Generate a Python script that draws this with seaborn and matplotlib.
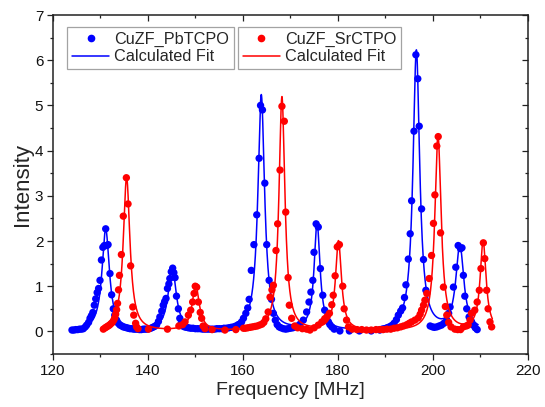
import numpy as np
import pandas as pd
import matplotlib
matplotlib.use("Agg")
import matplotlib.pyplot as plt
from matplotlib.lines import Line2D
from matplotlib.ticker import MultipleLocator
import seaborn as sns

# ---------------- data ----------------
blue_freq = [124.0, 124.4, 124.8, 125.2, 125.6, 126.0, 126.4, 126.8, 127.1, 127.5,
             127.8, 128.1, 128.4, 128.7, 129.0, 129.3, 129.6, 129.9, 130.2, 130.5,
             130.8, 131.1, 131.35, 131.6, 132.0, 132.35, 132.7, 133.0, 133.4, 133.75,
             134.1, 134.5, 134.8, 135.2, 135.5, 135.9, 136.2, 136.6, 137.0, 137.4,
             137.8, 138.2, 138.6, 139.0, 139.4, 139.8, 140.2, 140.6, 141.0, 141.4,
             141.8, 142.2, 142.5, 142.9, 143.2, 143.5, 143.8, 144.1, 144.4, 144.6,
             144.9, 145.2, 145.45, 145.7, 146.0, 146.4, 146.7, 147.0, 147.3, 147.7,
             148.1, 148.5, 149.0, 149.5, 150.0, 150.5, 151.0, 151.5, 152.0, 152.5,
             153.0, 153.5, 154.0, 154.5, 155.0, 155.5, 156.0, 156.5, 157.0, 157.5,
             158.0, 158.5, 159.0, 159.4, 159.7, 160.1, 160.6, 161.0, 161.3, 161.75,
             162.3, 162.9, 163.4, 163.7, 164.1, 164.6, 165.0, 165.5, 166.0, 166.4,
             166.8, 167.2, 167.6, 168.0, 168.5, 169.0, 169.5, 170.0, 170.5, 171.0,
             171.5, 172.0, 172.7, 173.4, 173.9, 174.3, 174.7, 174.95, 175.4, 175.85,
             176.3, 176.8, 177.2, 177.6, 178.0, 178.3, 178.7, 179.2, 180.4, 182.4,
             184.5, 187.0, 188.8, 189.3, 189.8, 190.3, 190.8, 191.3, 191.8, 192.3,
             192.7, 193.2, 193.6, 194.0, 194.3, 194.8, 195.2, 195.5, 196.0, 196.4,
             196.8, 197.1, 197.6, 198.0, 198.5, 199.4, 199.9, 200.3, 200.8, 201.3,
             201.8, 202.3, 202.9, 203.3, 203.6, 204.3, 204.8, 205.3, 205.8, 206.1,
             206.4, 206.7, 207.1, 207.6, 208.1, 208.5, 208.9, 209.3]
blue_int = [0.03, 0.03, 0.04, 0.04, 0.05, 0.05, 0.06, 0.10, 0.14, 0.20,
            0.29, 0.35, 0.42, 0.58, 0.72, 0.86, 0.95, 1.13, 1.58, 1.86,
            1.90, 2.27, 1.90, 1.92, 1.28, 0.81, 0.50, 0.36, 0.25, 0.18,
            0.14, 0.12, 0.10, 0.09, 0.08, 0.07, 0.06, 0.06, 0.05, 0.05,
            0.05, 0.04, 0.04, 0.05, 0.05, 0.05, 0.06, 0.07, 0.09, 0.11,
            0.14, 0.22, 0.32, 0.45, 0.58, 0.66, 0.73, 0.95, 1.05, 1.17,
            1.32, 1.40, 1.30, 1.19, 0.78, 0.50, 0.29, 0.18, 0.12, 0.10,
            0.09, 0.08, 0.07, 0.07, 0.06, 0.06, 0.06, 0.05, 0.05, 0.05,
            0.05, 0.05, 0.05, 0.06, 0.06, 0.06, 0.07, 0.07, 0.08, 0.09,
            0.10, 0.12, 0.15, 0.17, 0.21, 0.29, 0.40, 0.52, 0.71, 1.35,
            1.92, 2.58, 3.83, 5.00, 4.90, 3.28, 1.92, 1.13, 0.71, 0.40,
            0.25, 0.15, 0.10, 0.08, 0.06, 0.05, 0.06, 0.07, 0.08, 0.10,
            0.12, 0.16, 0.25, 0.43, 0.65, 0.87, 1.13, 1.75, 2.38, 2.31,
            1.39, 0.80, 0.47, 0.28, 0.21, 0.15, 0.10, 0.05, 0.01, 0.01,
            0.01, 0.01, 0.03, 0.05, 0.06, 0.08, 0.10, 0.13, 0.18, 0.26,
            0.36, 0.45, 0.52, 0.75, 1.03, 1.60, 2.16, 2.89, 4.43, 6.12,
            5.59, 4.54, 2.71, 1.59, 0.91, 0.12, 0.10, 0.09, 0.10, 0.12,
            0.14, 0.18, 0.25, 0.40, 0.54, 0.98, 1.42, 1.90, 1.83, 1.85,
            1.24, 0.78, 0.50, 0.32, 0.22, 0.14, 0.08, 0.04]

red_freq = [130.6, 131.0, 131.3, 131.6, 131.9, 132.2, 132.5, 132.8, 133.0, 133.2,
            133.4, 133.6, 133.8, 134.0, 134.4, 134.8, 135.45, 135.8, 136.35, 136.8,
            137.0, 137.4, 137.6, 137.9, 140.1, 144.1, 146.5, 147.3, 147.8, 148.5,
            149.0, 149.4, 149.7, 149.95, 150.25, 150.6, 151.0, 151.3, 151.6, 152.0,
            153.5, 156.2, 158.5, 160.1, 160.5, 161.0, 161.5, 162.0, 162.5, 163.0,
            163.5, 164.0, 164.4, 164.8, 165.3, 165.7, 166.1, 166.4, 166.95, 167.3,
            167.8, 168.2, 168.7, 169.0, 169.5, 169.75, 170.25, 170.9, 171.5, 172.5,
            173.4, 174.1, 175.0, 175.85, 176.6, 177.2, 177.7, 178.2, 178.7, 179.0,
            179.4, 179.85, 180.3, 181.0, 181.3, 181.8, 182.2, 183.0, 184.0, 185.0,
            186.0, 187.0, 188.0, 188.8, 189.5, 190.3, 191.1, 191.8, 192.5, 193.2,
            193.8, 194.5, 195.0, 195.5, 196.2, 196.9, 197.3, 197.6, 198.0, 198.3,
            198.7, 199.2, 199.7, 200.1, 200.4, 200.8, 201.1, 201.6, 202.2, 202.6,
            202.9, 203.3, 203.8, 204.6, 205.2, 205.8, 206.4, 207.0, 207.4, 207.8,
            208.1, 208.8, 209.3, 209.75, 210.1, 210.6, 210.9, 211.3, 211.6, 212.0,
            212.35]
red_int = [0.05, 0.08, 0.10, 0.12, 0.14, 0.17, 0.20, 0.25, 0.30, 0.38,
           0.48, 0.62, 0.92, 1.24, 1.70, 2.55, 3.40, 2.82, 1.45, 0.54,
           0.36, 0.18, 0.10, 0.06, 0.05, 0.05, 0.12, 0.15, 0.21, 0.36,
           0.47, 0.65, 0.84, 1.00, 0.98, 0.65, 0.42, 0.29, 0.12, 0.06,
           0.04, 0.03, 0.04, 0.07, 0.07, 0.08, 0.09, 0.10, 0.11, 0.12,
           0.14, 0.16, 0.20, 0.28, 0.43, 0.76, 0.92, 1.02, 1.79, 2.38,
           3.57, 4.98, 4.65, 2.64, 1.19, 0.58, 0.29, 0.12, 0.08, 0.06,
           0.05, 0.03, 0.08, 0.14, 0.21, 0.28, 0.33, 0.40, 0.59, 0.80,
           1.23, 1.87, 1.92, 1.00, 0.50, 0.25, 0.10, 0.05, 0.04, 0.04,
           0.03, 0.03, 0.04, 0.04, 0.04, 0.05, 0.05, 0.07, 0.08, 0.10,
           0.12, 0.15, 0.18, 0.21, 0.25, 0.30, 0.38, 0.47, 0.58, 0.69,
           0.84, 1.17, 1.68, 2.39, 3.02, 4.10, 4.31, 2.18, 0.98, 0.55,
           0.36, 0.20, 0.10, 0.05, 0.04, 0.04, 0.10, 0.12, 0.14, 0.25,
           0.40, 0.47, 0.65, 0.91, 1.39, 1.96, 1.61, 0.91, 0.50, 0.21,
           0.10]

# Calculated fit: Lorentzian peak parameters (centre, height, half width)
blue_fit_centers = [131.1, 145.1, 163.85, 175.6, 196.5, 205.65]
blue_fit_heights = [2.25, 1.40, 5.22, 2.36, 6.20, 1.88]
blue_fit_widths = [0.95, 1.00, 0.85, 0.75, 0.85, 1.00]
blue_fit_range = [124.0, 209.5]

red_fit_centers = [135.5, 150.05, 168.2, 180.1, 201.05, 210.55]
red_fit_heights = [3.40, 1.00, 5.18, 1.98, 4.33, 1.97]
red_fit_widths = [0.85, 0.90, 0.75, 0.75, 0.80, 0.75]
red_fit_range = [130.5, 212.5]

series_labels = ["CuZF_PbTCPO", "CuZF_SrCTPO"]
fit_label = "Calculated Fit"
x_label = "Frequency [MHz]"
y_label = "Intensity"


def fit_curve(rng, centers, heights, widths):
    f = np.arange(rng[0], rng[1] + 1e-9, 0.02)
    y = np.zeros_like(f)
    for c, h, w in zip(centers, heights, widths):
        y += h / (1.0 + ((f - c) / w) ** 2)
    return f, y


sns.set_style("ticks")
plt.rcParams["font.family"] = ["Liberation Sans", "DejaVu Sans"]

fig = plt.figure(figsize=(5.45, 4.07), dpi=100)
ax = fig.add_axes([0.0972, 0.1302, 0.8716, 0.8329])

BLUE = "#0000ff"
RED = "#ff0000"

bf, by = fit_curve(blue_fit_range, blue_fit_centers, blue_fit_heights, blue_fit_widths)
rf, ry = fit_curve(red_fit_range, red_fit_centers, red_fit_heights, red_fit_widths)

sns.scatterplot(x=blue_freq, y=blue_int, color=BLUE, s=28, edgecolor="none",
                ax=ax, legend=False, zorder=3)
sns.lineplot(x=bf, y=by, color=BLUE, lw=1.1, ax=ax, legend=False,
             sort=False, estimator=None, zorder=4)
sns.scatterplot(x=red_freq, y=red_int, color=RED, s=28, edgecolor="none",
                ax=ax, legend=False, zorder=5)
sns.lineplot(x=rf, y=ry, color=RED, lw=1.1, ax=ax, legend=False,
             sort=False, estimator=None, zorder=6)

ax.set_xlim(120, 220)
ax.set_ylim(-0.5, 7)
ax.xaxis.set_major_locator(MultipleLocator(20))
ax.xaxis.set_minor_locator(MultipleLocator(10))
ax.yaxis.set_major_locator(MultipleLocator(1))
ax.yaxis.set_minor_locator(MultipleLocator(0.5))

for side in ["left", "bottom", "top", "right"]:
    ax.spines[side].set_visible(True)
    ax.spines[side].set_color("#222222")
    ax.spines[side].set_linewidth(1.1)

ax.tick_params(which="major", direction="out", length=4.5, width=0.9,
               color="#222222", labelsize=11, labelcolor="#111111", pad=2.5)
ax.tick_params(which="minor", direction="out", length=2.3, width=0.9, color="#222222")

secx = ax.secondary_xaxis("top")
secx.xaxis.set_major_locator(MultipleLocator(20))
secx.xaxis.set_minor_locator(MultipleLocator(10))
secx.tick_params(which="major", direction="in", length=4.5, width=0.9, labeltop=False, color="#222222")
secx.tick_params(which="minor", direction="in", length=2.3, width=0.9, color="#222222")
secx.spines["top"].set_visible(False)

secy = ax.secondary_yaxis("right")
secy.yaxis.set_major_locator(MultipleLocator(1))
secy.yaxis.set_minor_locator(MultipleLocator(0.5))
secy.tick_params(which="major", direction="in", length=4.5, width=0.9, labelright=False, color="#222222")
secy.tick_params(which="minor", direction="in", length=2.3, width=0.9, color="#222222")
secy.spines["right"].set_visible(False)

ax.set_xlabel(x_label, fontsize=14, labelpad=3)
ax.set_ylabel(y_label, fontsize=16, labelpad=1)

leg_kw = dict(loc="upper left", borderaxespad=0, frameon=True, fancybox=False,
              fontsize=11.7, handlelength=2.3, handletextpad=0.3, borderpad=0.3,
              labelspacing=0.15)
h1 = [Line2D([], [], marker="o", ls="none", color=BLUE, markersize=4.5),
      Line2D([], [], color=BLUE, lw=1.1)]
leg1 = ax.legend(h1, [series_labels[0], fit_label], bbox_to_anchor=(0.0295, 0.9646), **leg_kw)
leg1.get_frame().set_edgecolor("#8c8c8c")
leg1.get_frame().set_linewidth(0.9)
ax.add_artist(leg1)
h2 = [Line2D([], [], marker="o", ls="none", color=RED, markersize=4.5),
      Line2D([], [], color=RED, lw=1.1)]
leg2 = ax.legend(h2, [series_labels[1], fit_label], bbox_to_anchor=(0.389, 0.9646), **leg_kw)
leg2.get_frame().set_edgecolor("#8c8c8c")
leg2.get_frame().set_linewidth(0.9)

fig.savefig("out.png", dpi=100)
